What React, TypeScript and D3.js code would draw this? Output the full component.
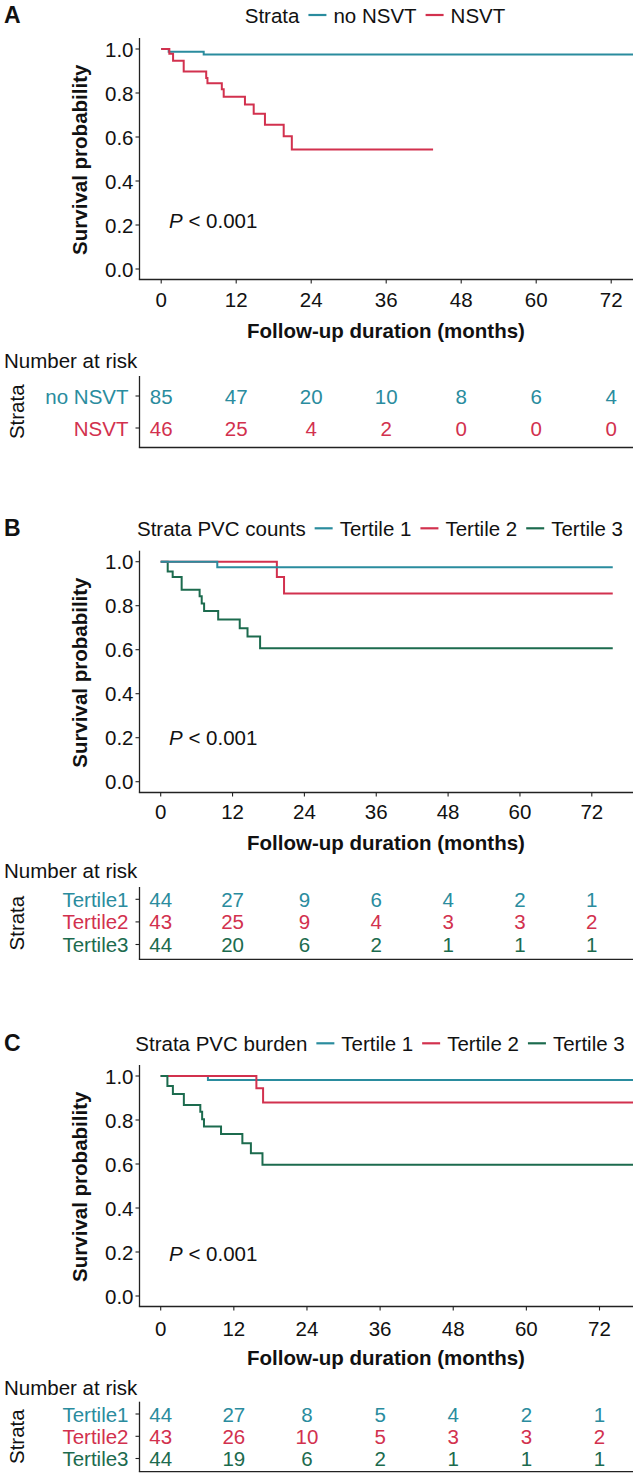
import React from 'react';
import * as d3 from 'd3';

// ---------- shared ticks ----------
const monthTicks = [0, 12, 24, 36, 48, 60, 72];
const survTicks = [0, 0.2, 0.4, 0.6, 0.8, 1.0];
const survTickLabels = ['0.0', '0.2', '0.4', '0.6', '0.8', '1.0'];

// ---------- Panel A ----------
const aLegendTitle = 'Strata';
const aStrata = ['no NSVT', 'NSVT'];
const aTableLabels = ['no NSVT', 'NSVT'];
const aNoNsvtTime = [0, 1.2, 6.8, 75.5];
const aNoNsvtSurv = [1, 0.988, 0.975, 0.975];
const aNsvtTime = [0, 1.3, 1.9, 3.6, 7.2, 7.4, 9.7, 10.0, 13.4, 14.8, 16.6, 19.6, 20.9, 43.5];
const aNsvtSurv = [1, 0.978, 0.947, 0.898, 0.868, 0.844, 0.817, 0.783, 0.748, 0.706, 0.656, 0.603, 0.543, 0.543];
const aRiskNoNsvt = [85, 47, 20, 10, 8, 6, 4];
const aRiskNsvt = [46, 25, 4, 2, 0, 0, 0];

// ---------- Panel B ----------
const bLegendTitle = 'Strata PVC counts';
const bStrata = ['Tertile 1', 'Tertile 2', 'Tertile 3'];
const bTableLabels = ['Tertile1', 'Tertile2', 'Tertile3'];
const bT1Time = [0, 9.45, 75.5];
const bT1Surv = [1, 0.975, 0.975];
const bT2Time = [0, 19.4, 20.6, 75.5];
const bT2Surv = [1, 0.93, 0.855, 0.855];
const bT3Time = [0, 1.17, 2.0, 3.5, 6.5, 6.85, 7.25, 9.6, 13.2, 14.5, 16.6, 75.5];
const bT3Surv = [1, 0.955, 0.93, 0.872, 0.843, 0.81, 0.776, 0.737, 0.697, 0.66, 0.607, 0.607];
const bRiskT1 = [44, 27, 9, 6, 4, 2, 1];
const bRiskT2 = [43, 25, 9, 4, 3, 3, 2];
const bRiskT3 = [44, 20, 6, 2, 1, 1, 1];

// ---------- Panel C ----------
const cLegendTitle = 'Strata PVC burden';
const cStrata = ['Tertile 1', 'Tertile 2', 'Tertile 3'];
const cTableLabels = ['Tertile1', 'Tertile2', 'Tertile3'];
const cT1Time = [0, 7.75, 77.6];
const cT1Surv = [1, 0.982, 0.982];
const cT2Time = [0, 15.7, 16.8, 77.6];
const cT2Surv = [1, 0.944, 0.88, 0.88];
const cT3Time = [0, 1.1, 2.0, 3.8, 6.5, 6.8, 7.1, 9.9, 13.4, 14.8, 16.7, 77.6];
const cT3Surv = [1, 0.955, 0.918, 0.868, 0.838, 0.803, 0.77, 0.736, 0.694, 0.649, 0.597, 0.597];
const cRiskT1 = [44, 27, 8, 5, 4, 2, 1];
const cRiskT2 = [43, 26, 10, 5, 3, 3, 2];
const cRiskT3 = [44, 19, 6, 2, 1, 1, 1];

const TEAL = '#2A8C9E';
const RED = '#D2314E';
const GREEN = '#1C6B4E';
const FONT = "'Liberation Sans', Arial, Helvetica, sans-serif";
const FS = 20.5;
const AXIS = '#222';

function zip(t: number[], s: number[]): [number, number][] {
  return t.map((v, i) => [v, s[i]] as [number, number]);
}

let measureCtx: CanvasRenderingContext2D | null = null;
function textW(txt: string, size = FS, weight = 'normal') {
  if (!measureCtx) measureCtx = document.createElement('canvas').getContext('2d');
  measureCtx!.font = `${weight} ${size}px ${FONT}`;
  return measureCtx!.measureText(txt).width;
}

type Series = { label: string; tableLabel: string; color: string; time: number[]; surv: number[]; risk: number[] };

type PanelCfg = {
  letter: string;
  legendTitle: string;
  legendCenter: number;
  series: Series[];
  drawOrder: number[];
  y0: number;
  y1: number;
  xAxisY: number;
  x0: number;
  x72: number;
  legendY: number;
  tickLabelY: number;
  titleY: number;
  pY: number;
  narY: number;
  tableTop: number;
  tableBottom: number;
  rowY: number[];
};

const panels: PanelCfg[] = [
  {
    letter: 'A', legendTitle: aLegendTitle, legendCenter: 375,
    series: [
      { label: aStrata[0], tableLabel: aTableLabels[0], color: TEAL, time: aNoNsvtTime, surv: aNoNsvtSurv, risk: aRiskNoNsvt },
      { label: aStrata[1], tableLabel: aTableLabels[1], color: RED, time: aNsvtTime, surv: aNsvtSurv, risk: aRiskNsvt },
    ],
    drawOrder: [0, 1],
    y0: 269, y1: 49, xAxisY: 279.5, x0: 161.2, x72: 611.2,
    legendY: 15, tickLabelY: 299.5, titleY: 330, pY: 219.5,
    narY: 360, tableTop: 376, tableBottom: 447.5, rowY: [396, 428],
  },
  {
    letter: 'B', legendTitle: bLegendTitle, legendCenter: 380,
    series: [
      { label: bStrata[0], tableLabel: bTableLabels[0], color: TEAL, time: bT1Time, surv: bT1Surv, risk: bRiskT1 },
      { label: bStrata[1], tableLabel: bTableLabels[1], color: RED, time: bT2Time, surv: bT2Surv, risk: bRiskT2 },
      { label: bStrata[2], tableLabel: bTableLabels[2], color: GREEN, time: bT3Time, surv: bT3Surv, risk: bRiskT3 },
    ],
    drawOrder: [2, 1, 0],
    y0: 781.7, y1: 561.7, xAxisY: 792.5, x0: 160.7, x72: 591.8,
    legendY: 528.3, tickLabelY: 811.7, titleY: 842.7, pY: 737,
    narY: 870.7, tableTop: 887, tableBottom: 959.3, rowY: [899.3, 921.9, 944.5],
  },
  {
    letter: 'C', legendTitle: cLegendTitle, legendCenter: 380,
    series: [
      { label: cStrata[0], tableLabel: cTableLabels[0], color: TEAL, time: cT1Time, surv: cT1Surv, risk: cRiskT1 },
      { label: cStrata[1], tableLabel: cTableLabels[1], color: RED, time: cT2Time, surv: cT2Surv, risk: cRiskT2 },
      { label: cStrata[2], tableLabel: cTableLabels[2], color: GREEN, time: cT3Time, surv: cT3Surv, risk: cRiskT3 },
    ],
    drawOrder: [0, 1, 2],
    y0: 1296, y1: 1076, xAxisY: 1306.5, x0: 160.7, x72: 599.5,
    legendY: 1043.3, tickLabelY: 1328.3, titleY: 1357.3, pY: 1252.7,
    narY: 1387.3, tableTop: 1401.7, tableBottom: 1471.7, rowY: [1414, 1436.3, 1458.5],
  },
];

const AXIS_X = 139.5;
const RIGHT = 633;
const TITLE_CX = 386;

function Legend({ cfg }: { cfg: PanelCfg }) {
  const keyLen = 18, gapTitle = 9, gapKey = 7, gapItem = 9;
  const titleW = textW(cfg.legendTitle);
  let total = titleW + gapTitle;
  cfg.series.forEach((s, i) => {
    total += keyLen + gapKey + textW(s.label);
    if (i < cfg.series.length - 1) total += gapItem;
  });
  let x = Math.min(cfg.legendCenter - total / 2, 630 - total);
  const items: React.ReactNode[] = [];
  items.push(
    <text key="t" x={x} y={cfg.legendY} dominantBaseline="central" fontSize={FS}>{cfg.legendTitle}</text>
  );
  x += titleW + gapTitle;
  cfg.series.forEach((s, i) => {
    items.push(<line key={'k' + i} x1={x} x2={x + keyLen} y1={cfg.legendY} y2={cfg.legendY} stroke={s.color} strokeWidth={2.2} />);
    x += keyLen + gapKey;
    items.push(<text key={'l' + i} x={x} y={cfg.legendY} dominantBaseline="central" fontSize={FS}>{s.label}</text>);
    x += textW(s.label) + gapItem;
  });
  return <g>{items}</g>;
}

function Panel({ cfg }: { cfg: PanelCfg }) {
  const x = d3.scaleLinear().domain([0, 72]).range([cfg.x0, cfg.x72]);
  const y = d3.scaleLinear().domain([0, 1]).range([cfg.y0, cfg.y1]);
  const yTop = y(1.05);
  const line = d3.line<[number, number]>().x(d => x(d[0])).y(d => y(d[1])).curve(d3.curveStepAfter);
  const yMid = (yTop + cfg.xAxisY) / 2 + 1;
  const tableMid = (cfg.tableTop + cfg.tableBottom) / 2;
  return (
    <g>
      <text x={4} y={cfg.legendY} dominantBaseline="central" fontSize={23} fontWeight="bold">{cfg.letter}</text>
      <Legend cfg={cfg} />
      {cfg.drawOrder.map(i => {
        const s = cfg.series[i];
        return <path key={i} d={line(zip(s.time, s.surv)) || ''} fill="none" stroke={s.color} strokeWidth={2} />;
      })}
      <line x1={AXIS_X} x2={AXIS_X} y1={yTop} y2={cfg.xAxisY} stroke={AXIS} strokeWidth={1.3} />
      <line x1={AXIS_X - 0.65} x2={RIGHT} y1={cfg.xAxisY} y2={cfg.xAxisY} stroke={AXIS} strokeWidth={1.3} />
      {survTicks.map((t, i) => (
        <g key={'yt' + i}>
          <line x1={AXIS_X - 4} x2={AXIS_X} y1={y(t)} y2={y(t)} stroke={AXIS} strokeWidth={1.1} />
          <text x={AXIS_X - 6} y={y(t)} textAnchor="end" dominantBaseline="central" fontSize={FS}>{survTickLabels[i]}</text>
        </g>
      ))}
      {monthTicks.map((t, i) => (
        <g key={'xt' + i}>
          <line x1={x(t)} x2={x(t)} y1={cfg.xAxisY} y2={cfg.xAxisY + 4} stroke={AXIS} strokeWidth={1.1} />
          <text x={x(t)} y={cfg.tickLabelY} textAnchor="middle" dominantBaseline="central" fontSize={FS}>{String(t)}</text>
        </g>
      ))}
      <text x={TITLE_CX} y={cfg.titleY} textAnchor="middle" dominantBaseline="central" fontSize={FS} fontWeight="bold">Follow-up duration (months)</text>
      <text transform={`translate(79,${yMid}) rotate(-90)`} textAnchor="middle" dominantBaseline="central" fontSize={FS} fontWeight="bold">Survival probability</text>
      <text x={169} y={cfg.pY} dominantBaseline="central" fontSize={FS}>
        <tspan fontStyle="italic">P</tspan>
        <tspan>{' < 0.001'}</tspan>
      </text>
      <text x={4} y={cfg.narY} dominantBaseline="central" fontSize={FS}>Number at risk</text>
      <line x1={AXIS_X} x2={AXIS_X} y1={cfg.tableTop} y2={cfg.tableBottom} stroke={AXIS} strokeWidth={1.3} />
      <line x1={AXIS_X - 0.65} x2={RIGHT} y1={cfg.tableBottom} y2={cfg.tableBottom} stroke={AXIS} strokeWidth={1.3} />
      <text transform={`translate(16,${tableMid}) rotate(-90)`} textAnchor="middle" dominantBaseline="central" fontSize={FS}>Strata</text>
      {cfg.series.map((s, r) => (
        <g key={'row' + r}>
          <line x1={AXIS_X - 4} x2={AXIS_X} y1={cfg.rowY[r]} y2={cfg.rowY[r]} stroke={AXIS} strokeWidth={1.1} />
          <text x={AXIS_X - 11} y={cfg.rowY[r]} textAnchor="end" dominantBaseline="central" fontSize={FS} fill={s.color}>{s.tableLabel}</text>
          {s.risk.map((v, k) => (
            <text key={k} x={x(monthTicks[k])} y={cfg.rowY[r]} textAnchor="middle" dominantBaseline="central" fontSize={FS} fill={s.color}>{String(v)}</text>
          ))}
        </g>
      ))}
    </g>
  );
}

export default function App() {
  return (
    <svg width={633} height={1476} viewBox="0 0 633 1476"
      style={{ position: 'absolute', left: 0, top: 0, background: '#fff' }}
      fontFamily={FONT} fill="#111">
      {panels.map((p, i) => (
        <g key={i}>
          <Panel cfg={p} />
        </g>
      ))}
    </svg>
  );
}
